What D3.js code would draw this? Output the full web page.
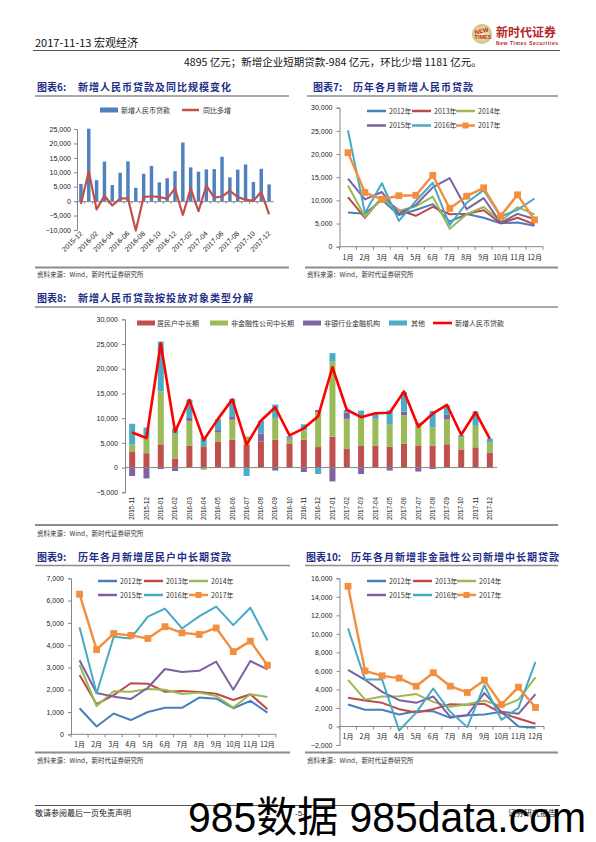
<!DOCTYPE html>
<html><head><meta charset="utf-8">
<script src="https://cdn.jsdelivr.net/npm/d3@7/dist/d3.min.js"></script>
<style>body{margin:0;background:#fff}svg{display:block}</style>
</head><body>
<svg id="page" width="596" height="842"></svg>
<script>
// ---------------- DATA ----------------
const monthLabels = ["1月","2月","3月","4月","5月","6月","7月","8月","9月","10月","11月","12月"];
const yearNames = ["2012年","2013年","2014年","2015年","2016年","2017年"];

// Chart 6
const c6Categories = ["2015-12","2016-01","2016-02","2016-03","2016-04","2016-05","2016-06","2016-07","2016-08","2016-09","2016-10","2016-11","2016-12","2017-01","2017-02","2017-03","2017-04","2017-05","2017-06","2017-07","2017-08","2017-09","2017-10","2017-11","2017-12"];
const c6Loans = [5978,25100,7266,13700,5556,9855,13800,4636,9487,12200,6513,7946,10400,20300,11700,10200,11000,11100,15400,8255,10900,12700,6632,11200,5800];
const c6YoY = [-1000,10400,-2900,1900,-1500,850,1000,-10200,1400,1700,1400,850,4400,-4800,4400,-3500,5400,1250,1600,3600,1400,500,100,3250,-4600];
const c6Ticks = [-10000,-5000,0,5000,10000,15000,20000,25000];

// Chart 7 : new RMB loans by month
const c7_2012 = [7381,7107,10114,6818,7932,9198,5401,7039,6232,5053,5229,4543];
const c7_2013 = [10721,6200,10625,7929,6674,8605,6999,7113,7870,5064,6246,4825];
const c7_2014 = [13200,6445,10500,7747,8708,10800,3852,7025,8572,5483,8527,6973];
const c7_2015 = [14700,10200,11800,7079,9008,12800,14800,8096,10500,5136,7089,5978];
const c7_2016 = [25100,7266,13700,5556,9855,13800,4636,9487,12200,6513,7946,10400];
const c7_2017 = [20300,11700,10200,11000,11100,15400,8255,10900,12700,6632,11200,5800];
const c7Ticks = [0,5000,10000,15000,20000,25000,30000];

// Chart 8 : breakdown
const c8Categories = ["2015-11","2015-12","2016-01","2016-02","2016-03","2016-04","2016-05","2016-06","2016-07","2016-08","2016-09","2016-10","2016-11","2016-12","2017-01","2017-02","2017-03","2017-04","2017-05","2017-06","2017-07","2017-08","2017-09","2017-10","2017-11","2017-12"];
const c8Household = [3290,2910,4700,1840,4380,4300,5280,5640,4650,5290,5650,4900,5650,4150,6250,3750,4480,4400,4250,4800,4480,4450,4730,3650,4100,3050];
const c8Corporate = [1370,3100,10700,5000,5070,-430,1800,4050,1650,-70,4400,750,1900,7000,15200,6100,5550,5350,4450,5800,4000,3700,5050,2450,4350,2100];
const c8NonBank = [-1700,-2200,-300,-700,600,0,500,700,0,1600,-600,200,-900,500,-2800,1300,-1300,200,-600,700,-800,-300,900,0,-100,0];
const c8Other = [4200,2100,10100,1100,3700,1800,2200,3500,-1700,2600,2700,500,1200,-1300,1700,500,1500,1000,2900,4000,600,3300,1900,450,2900,700];
const c8Total = [7089,5978,25100,7266,13700,5556,9855,13800,4636,9487,12200,6513,7946,10400,20300,11700,10200,11000,11100,15400,8255,10900,12700,6632,11200,5800];
const c8SeriesNames = ["居民户中长期","非金融性公司中长期","非银行业金融机构","其他","新增人民币贷款"];
const c8Ticks = [-5000,0,5000,10000,15000,20000,25000,30000];

// Chart 9 : household mid/long-term loans
const c9_2012 = [1170,350,930,640,1000,1190,1190,1650,1600,1170,1500,970];
const c9_2013 = [2660,1350,1760,2290,2270,1910,1940,1900,1820,1540,1800,1120];
const c9_2014 = [3120,1270,1930,1910,2030,2000,1810,1870,1720,1200,1800,1670];
const c9_2015 = [3320,1850,1690,1580,2090,2930,2800,2850,3260,2000,3290,2910];
const c9_2016 = [4800,1840,4380,4300,5280,5640,4750,5290,5730,4900,5680,4210];
const c9_2017 = [6290,3800,4520,4440,4300,4830,4550,4480,4770,3710,4180,3100];
const c9Ticks = [0,1000,2000,3000,4000,5000,6000,7000];

// Chart 10 : non-financial corporate mid/long-term loans
const c10_2012 = [2370,1800,1800,1300,1650,1650,930,1200,1300,1600,0,-150];
const c10_2013 = [3100,2800,2550,1870,1500,1870,2400,2350,2450,1440,860,290];
const c10_2014 = [5040,2900,3240,3270,3500,2660,2120,2400,2800,2160,2900,5300];
const c10_2015 = [6120,5040,3740,2840,2550,3240,1040,1220,3600,1580,1370,3500];
const c10_2016 = [10580,5070,5070,-430,1500,4100,1580,-70,4460,720,2000,6980];
const c10_2017 = [15140,6000,5470,5220,4350,5800,4350,3670,5000,2370,4240,2050];
const c10Ticks = [-2000,0,2000,4000,6000,8000,10000,12000,14000,16000];

// ---------------- STYLE ----------------
const CN = "'Noto Sans CJK SC', 'Noto Sans', sans-serif";
const NUM = "'Liberation Sans', Arial, sans-serif";
const yearColors = ["#4a7ebb","#be4b48","#98b954","#7d60a0","#46aac5","#f38e3f"];
const c8Colors = ["#c0504d","#9bbb59","#8064a2","#4bacc6","#ff0000"];
const titleColor = "#1f2f88";
const axisColor = "#868686";
const fmt = d3.format(",");

const svg = d3.select("#page");
svg.append("rect").attr("width",596).attr("height",842).attr("fill","#fff");

// ---------------- PAGE FURNITURE ----------------
svg.append("text").attr("x",35).attr("y",47).attr("font-family",CN).attr("font-size",11).attr("fill","#111").text("2017-11-13 宏观经济");
svg.append("line").attr("x1",33).attr("x2",560).attr("y1",50.5).attr("y2",50.5).attr("stroke","#555").attr("stroke-width",1);
// logo
const grad = svg.append("defs").append("radialGradient").attr("id","lg");
grad.append("stop").attr("offset","0%").attr("stop-color","#f6f0c0");
grad.append("stop").attr("offset","100%").attr("stop-color","#cfc27a");
svg.append("circle").attr("cx",482).attr("cy",34).attr("r",10).attr("fill","url(#lg)");
svg.append("text").attr("x",482).attr("y",33).attr("text-anchor","middle").attr("font-family",NUM).attr("font-size",6).attr("font-weight","bold").attr("fill","#c0282c").attr("transform","rotate(-12,482,33)").text("NEW");
svg.append("text").attr("x",483).attr("y",39).attr("text-anchor","middle").attr("font-family",NUM).attr("font-size",5.5).attr("font-weight","bold").attr("fill","#c0282c").text("TIMES");
svg.append("text").attr("x",496).attr("y",37).attr("font-family",CN).attr("font-size",12).attr("font-weight","bold").attr("fill","#b5262b").text("新时代证券");
svg.append("text").attr("x",496).attr("y",45).attr("font-family",NUM).attr("font-size",5).attr("font-weight","bold").attr("fill","#b5262b").attr("textLength",62).text("New Times Securities");

svg.append("text").attr("x",184).attr("y",66).attr("font-family",CN).attr("font-size",10.5).attr("fill","#111").text("4895 亿元；新增企业短期贷款-984 亿元，环比少增 1181 亿元。");

function chartTitle(x, y, label, text, textX, x1, x2) {
  svg.append("text").attr("x",x).attr("y",y).attr("font-family",CN).attr("font-size",10).attr("font-weight","bold").attr("fill",titleColor).text(label);
  svg.append("text").attr("x",textX).attr("y",y).attr("font-family",CN).attr("font-size",10).attr("font-weight","bold").attr("fill",titleColor).attr("letter-spacing",1).text(text);
  svg.append("line").attr("x1",x1).attr("x2",x2).attr("y1",y+5).attr("y2",y+5).attr("stroke","#8c8c8c").attr("stroke-width",1.5);
}
function sepLine(x1,x2,y){ svg.append("line").attr("x1",x1).attr("x2",x2).attr("y1",y).attr("y2",y).attr("stroke","#8c8c8c").attr("stroke-width",1.8); }
function source(x,y){ svg.append("text").attr("x",x).attr("y",y).attr("font-family",CN).attr("font-size",6.5).attr("fill","#333").text("资料来源：Wind，新时代证券研究所"); }

function styleAxis(g){
  g.select(".domain").attr("stroke",axisColor);
  g.selectAll(".tick line").attr("stroke",axisColor);
  g.selectAll(".tick text").attr("font-family",NUM).attr("font-size",7).attr("fill","#222");
}

// ---------------- CHART 6 ----------------
chartTitle(37,91,"图表6:","新增人民币贷款及同比规模变化",78,35,289);
{
  const x = d3.scaleBand().domain(c6Categories).range([77,273]).paddingInner(0.56).paddingOuter(0.28);
  const y = d3.scaleLinear().domain([-10000,25000]).range([230,129]);
  const g = svg.append("g");
  const ya = g.append("g").attr("transform","translate(77,0)").call(d3.axisLeft(y).tickValues(c6Ticks).tickFormat(fmt).tickSize(3).tickPadding(3));
  styleAxis(ya);
  g.selectAll("rect.bar").data(c6Loans).join("rect")
    .attr("x",(d,i)=>x(c6Categories[i])).attr("width",x.bandwidth())
    .attr("y",d=>y(Math.max(0,d))).attr("height",d=>Math.abs(y(d)-y(0))).attr("fill","#4f81bd");
  const xa = g.append("g").attr("transform",`translate(0,${y(0)})`).call(d3.axisBottom(x).tickValues([]).tickSizeOuter(0));
  xa.select(".domain").attr("stroke",axisColor);
  g.selectAll("line.ct").data(c6Categories).join("line").attr("class","ct")
    .attr("x1",d=>x(d)-x.step()*x.paddingInner()/2).attr("x2",d=>x(d)-x.step()*x.paddingInner()/2)
    .attr("y1",y(0)).attr("y2",y(0)+2.5).attr("stroke",axisColor);
  const line = d3.line().x((d,i)=>x(c6Categories[i])+x.bandwidth()/2).y(d=>y(d));
  g.append("path").attr("d",line(c6YoY)).attr("fill","none").attr("stroke","#c0504d").attr("stroke-width",2.2).attr("stroke-linejoin","round");
  g.selectAll("text.xl").data(c6Categories.filter((d,i)=>i%2===0)).join("text").attr("class","xl")
    .attr("transform",d=>`translate(${x(d)+x.bandwidth()/2+2},234) rotate(-45)`)
    .attr("text-anchor","end").attr("font-family",NUM).attr("font-size",7).attr("fill","#222").text(d=>d);
  // legend
  g.append("rect").attr("x",100).attr("y",107.5).attr("width",18).attr("height",5).attr("fill","#4f81bd");
  g.append("text").attr("x",121).attr("y",113).attr("font-family",CN).attr("font-size",7).attr("fill","#333").text("新增人民币贷款");
  g.append("line").attr("x1",182).attr("x2",199).attr("y1",110).attr("y2",110).attr("stroke","#c0504d").attr("stroke-width",2.5);
  g.append("text").attr("x",203).attr("y",113).attr("font-family",CN).attr("font-size",7).attr("fill","#333").text("同比多增");
}
sepLine(35,289,267.5);
source(37,277);

// ---------------- LINE CHART HELPER ----------------
function lineChart(o){
  const x = d3.scaleBand().domain(monthLabels).range([o.x0,o.x1]);
  const y = d3.scaleLinear().domain(o.yDomain).range([o.yBottom,o.yTop]);
  const g = svg.append("g");
  const ya = g.append("g").attr("transform",`translate(${o.x0},0)`).call(d3.axisLeft(y).tickValues(o.ticks).tickFormat(fmt).tickSize(3).tickPadding(4));
  styleAxis(ya);
  const zy = y(0);
  g.append("line").attr("x1",o.x0).attr("x2",o.x1).attr("y1",zy).attr("y2",zy).attr("stroke",axisColor);
  d3.range(13).forEach(i=>{
    const xx = o.x0 + i*x.step();
    g.append("line").attr("x1",xx).attr("x2",xx).attr("y1",zy).attr("y2",zy+3).attr("stroke",axisColor);
  });
  g.selectAll("text.ml").data(monthLabels).join("text").attr("class","ml")
    .attr("x",d=>x(d)+x.bandwidth()/2).attr("y",o.labelY).attr("text-anchor","middle")
    .attr("font-family",CN).attr("font-size",7).attr("fill","#222").text(d=>d);
  const line = d3.line().x((d,i)=>x(monthLabels[i])+x.bandwidth()/2).y(d=>y(d));
  o.series.forEach((s,k)=>{
    g.append("path").attr("d",line(s)).attr("fill","none").attr("stroke",yearColors[k]).attr("stroke-width",k===5?2.4:2).attr("stroke-linejoin","round");
  });
  const last = o.series[5];
  g.selectAll("rect.mk").data(last).join("rect").attr("class","mk")
    .attr("x",(d,i)=>x(monthLabels[i])+x.bandwidth()/2-3.4).attr("y",d=>y(d)-3.4)
    .attr("width",6.8).attr("height",6.8).attr("fill",yearColors[5]);
  // legend
  yearNames.forEach((nm,k)=>{
    const col = k%3, row = Math.floor(k/3);
    const lx = o.legX[col], ly = o.legY[row];
    g.append("line").attr("x1",lx).attr("x2",lx+19).attr("y1",ly).attr("y2",ly).attr("stroke",yearColors[k]).attr("stroke-width",2.5);
    if(k===5) g.append("rect").attr("x",lx+6.5).attr("y",ly-3).attr("width",6).attr("height",6).attr("fill",yearColors[5]);
    g.append("text").attr("x",lx+22).attr("y",ly+2.5).attr("font-family",CN).attr("font-size",7).attr("fill","#333").text(nm);
  });
}

// ---------------- CHART 7 ----------------
chartTitle(313,91,"图表7:","历年各月新增人民币贷款",353,307,558);
lineChart({x0:339.5,x1:543,yDomain:[0,30000],yTop:107.7,yBottom:246.7,ticks:c7Ticks,labelY:259.5,
  series:[c7_2012,c7_2013,c7_2014,c7_2015,c7_2016,c7_2017],legX:[367,412,456],legY:[111,125.5]});
sepLine(305,558,267.5);
source(307,277);

// ---------------- CHART 8 ----------------
chartTitle(37,302,"图表8:","新增人民币贷款按投放对象类型分解",78,35,558);
{
  const x = d3.scaleBand().domain(c8Categories).range([125,497]).paddingInner(0.58).paddingOuter(0.29);
  const y = d3.scaleLinear().domain([-5000,30000]).range([492.3,319.3]);
  const table = c8Categories.map((c,i)=>({cat:c,h:c8Household[i],co:c8Corporate[i],nb:c8NonBank[i],ot:c8Other[i]}));
  const keys = ["h","co","nb","ot"];
  const stacked = d3.stack().keys(keys).offset(d3.stackOffsetDiverging)(table);
  const g = svg.append("g");
  const ya = g.append("g").attr("transform","translate(125,0)").call(d3.axisLeft(y).tickValues(c8Ticks).tickFormat(fmt).tickSize(3).tickPadding(4));
  styleAxis(ya);
  stacked.forEach((s,k)=>{
    g.selectAll("rect.s"+k).data(s).join("rect").attr("class","s"+k)
      .attr("x",d=>x(d.data.cat)).attr("width",x.bandwidth())
      .attr("y",d=>y(Math.max(d[0],d[1]))).attr("height",d=>Math.abs(y(d[0])-y(d[1])))
      .attr("fill",c8Colors[k]);
  });
  g.append("line").attr("x1",125).attr("x2",497).attr("y1",y(0)).attr("y2",y(0)).attr("stroke",axisColor);
  const line = d3.line().x((d,i)=>x(c8Categories[i])+x.bandwidth()/2).y(d=>y(d));
  g.append("path").attr("d",line(c8Total)).attr("fill","none").attr("stroke",c8Colors[4]).attr("stroke-width",2.6).attr("stroke-linejoin","round");
  g.selectAll("text.xl").data(c8Categories).join("text").attr("class","xl")
    .attr("transform",d=>`translate(${x(d)+x.bandwidth()/2+2.2},497) rotate(-90)`)
    .attr("text-anchor","end").attr("font-family",NUM).attr("font-size",6.3).attr("fill","#222").text(d=>d);
  // legend
  const legItems = [[137,157],[210,231],[303,324],[389,411],[433,455]];
  c8SeriesNames.forEach((nm,k)=>{
    const [lx,tx] = legItems[k];
    if(k<4) g.append("rect").attr("x",lx).attr("y",320.5).attr("width",18).attr("height",5).attr("fill",c8Colors[k]);
    else g.append("line").attr("x1",lx).attr("x2",lx+19).attr("y1",323).attr("y2",323).attr("stroke",c8Colors[k]).attr("stroke-width",2.6);
    g.append("text").attr("x",tx).attr("y",325.5).attr("font-family",CN).attr("font-size",7).attr("fill","#333").text(nm);
  });
}
sepLine(35,558,525);
source(37,536);

// ---------------- CHART 9 ----------------
chartTitle(37,560.5,"图表9:","历年各月新增居民户中长期贷款",78,35,290);
lineChart({x0:71,x1:276,yDomain:[0,7000],yTop:578.3,yBottom:734.3,ticks:c9Ticks,labelY:747,
  series:[c9_2012,c9_2013,c9_2014,c9_2015,c9_2016,c9_2017],legX:[98,144,189],legY:[581,595]});
sepLine(35,290,752.5);
source(37,763);

// ---------------- CHART 10 ----------------
chartTitle(306,560.5,"图表10:","历年各月新增非金融性公司新增中长期贷款",351,305,558);
lineChart({x0:339.5,x1:544,yDomain:[-2000,16000],yTop:578.3,yBottom:745,ticks:c10Ticks,labelY:738.5,
  series:[c10_2012,c10_2013,c10_2014,c10_2015,c10_2016,c10_2017],legX:[367,413,457],legY:[581,595]});
sepLine(305,558,752.5);
source(307,763);

// ---------------- FOOTER ----------------
svg.append("line").attr("x1",35).attr("x2",560).attr("y1",805.5).attr("y2",805.5).attr("stroke","#555").attr("stroke-width",1);
svg.append("text").attr("x",35).attr("y",816).attr("font-family",CN).attr("font-size",8).attr("fill","#222").text("敬请参阅最后一页免责声明");
svg.append("text").attr("x",295).attr("y",816).attr("font-family",NUM).attr("font-size",8).attr("fill","#222").text("-5-");
svg.append("text").attr("x",508).attr("y",816).attr("font-family",CN).attr("font-size",8).attr("fill","#222").text("证券研究报告");
svg.append("text").attr("x",188).attr("y",832).attr("font-family",NUM+",'Noto Sans CJK SC'").attr("font-size",42).attr("fill","#000")
  .attr("textLength",398).attr("lengthAdjust","spacingAndGlyphs").text("985数据 985data.com");
</script>
</body></html>
